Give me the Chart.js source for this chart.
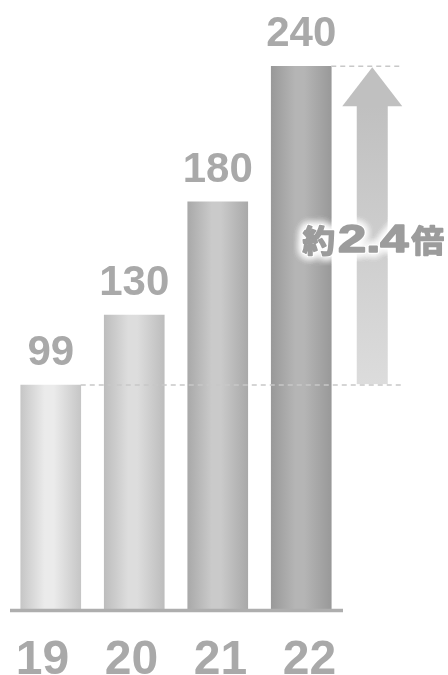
<!DOCTYPE html>
<html>
<head>
<meta charset="utf-8">
<script src="https://cdn.jsdelivr.net/npm/chart.js@4/dist/chart.umd.min.js"></script>
<style>
    html, body { margin: 0; padding: 0; background: #fff; }
    #wrap { width: 448px; height: 675px; }
</style>
</head>
<body>
<div id="wrap"><canvas id="chart" width="448" height="675"></canvas></div>
<script>
    // ── Data ─────────────────────────────────────────────────────────
    var years  = ['19', '20', '21', '22'];
    var values = [99, 130, 180, 240];
    var yMax   = 260;
    var ratio  = ['約', '2.4', '倍'];

    // bar shading: edge / highlight per bar
    var edgeColors  = ['#c6c6c6', '#bdbdbd', '#a9a9a9', '#999999'];
    var lightColors = ['#ebebeb', '#dddddd', '#cacaca', '#b5b5b5'];

    var TEXT = '#a9a9a9';
    var LATIN = '"Liberation Sans", Arial, sans-serif';
    var CJK = '"Noto Sans CJK JP", sans-serif';

    function barFill(ctx) {
        var chart = ctx.chart;
        var i = ctx.dataIndex;
        if (!chart.chartArea || !chart.scales.x) return edgeColors[i];
        var cx = chart.scales.x.getPixelForValue(i);
        var g = chart.ctx.createLinearGradient(cx - 30, 0, cx + 30, 0);
        g.addColorStop(0, edgeColors[i]);
        g.addColorStop(0.4, lightColors[i]);
        g.addColorStop(0.55, lightColors[i]);
        g.addColorStop(1, edgeColors[i]);
        return g;
    }

    // ── Overlay: axis, labels, arrow, ratio text ─────────────────────
    var overlay = {
        id: 'overlay',
        afterDatasetsDraw: function (chart) {
            var c = chart.ctx;
            var area = chart.chartArea;
            var y = chart.scales.y;
            var bars = chart.getDatasetMeta(0).data;
            var last = bars[bars.length - 1];
            var first = bars[0];
            var yTop = y.getPixelForValue(values[values.length - 1]);
            var yLow = y.getPixelForValue(values[0]);
            var ax = last.x + 71;
            var rightEnd = ax + 31;

            c.save();

            // arrow
            var head = 40;
            var shaft = c.createLinearGradient(0, yTop, 0, yLow);
            shaft.addColorStop(0, '#bcbcbc');
            shaft.addColorStop(1, '#dcdcdc');
            c.fillStyle = shaft;
            c.fillRect(ax - 15.5, yTop + head - 1, 31, yLow - yTop - head);
            c.fillStyle = '#c0c0c0';
            c.beginPath();
            c.moveTo(ax, yTop + 1);
            c.lineTo(ax + 30, yTop + head);
            c.lineTo(ax - 30, yTop + head);
            c.closePath();
            c.fill();

            // dashed guides
            c.strokeStyle = '#c8c8c8';
            c.lineWidth = 1.5;
            c.setLineDash([5, 4]);
            c.beginPath();
            c.moveTo(last.x + last.width / 2, yTop);
            c.lineTo(rightEnd, yTop);
            c.moveTo(first.x + first.width / 2, yLow);
            c.lineTo(rightEnd, yLow);
            c.stroke();
            c.setLineDash([]);

            // baseline
            c.strokeStyle = '#aeaeae';
            c.lineWidth = 3.5;
            c.beginPath();
            c.moveTo(area.left + 1, area.bottom + 1.5);
            c.lineTo(area.right, area.bottom + 1.5);
            c.stroke();

            // value labels
            c.fillStyle = TEXT;
            c.textAlign = 'center';
            c.textBaseline = 'alphabetic';
            c.font = 'bold 42px ' + LATIN;
            bars.forEach(function (b, i) {
                c.fillText(String(values[i]), b.x, b.y - 20);
            });

            // category labels, spread a little wider than the bars
            c.font = 'bold 48px ' + LATIN;
            bars.forEach(function (b, i) {
                c.fillText(years[i], b.x + (i - 1.5) * 5.5, 674);
            });

            // ratio text with white glow
            var base = 252;
            var parts = [
                { t: ratio[0], font: 'bold 31px ' + CJK, sx: 1.05 },
                { t: ratio[1], font: 'bold 39px ' + LATIN, sx: 1.3 },
                { t: ratio[2], font: 'bold 31px ' + CJK, sx: 1.05 }
            ];
            var widths = parts.map(function (p) {
                c.font = p.font;
                return c.measureText(p.t).width * p.sx;
            });
            var total = widths.reduce(function (a, b) { return a + b; }, 0) + 6;
            var x0 = ax - total / 2 + 1;
            c.textAlign = 'left';
            c.lineJoin = 'round';
            for (var pass = 0; pass < 4; pass++) {
                var x = x0;
                parts.forEach(function (p, k) {
                    c.save();
                    c.font = p.font;
                    c.translate(x, base);
                    c.scale(p.sx, 1);
                    if (pass < 3) {
                        c.shadowColor = '#ffffff';
                        c.shadowBlur = 10;
                        c.fillStyle = '#ffffff';
                        c.strokeStyle = '#ffffff';
                        c.lineWidth = 3;
                        c.strokeText(p.t, 0, 0);
                    } else {
                        c.fillStyle = '#9c9c9c';
                        c.strokeStyle = '#9c9c9c';
                        c.lineWidth = 1.6;
                        c.strokeText(p.t, 0, 0);
                    }
                    c.fillText(p.t, 0, 0);
                    c.restore();
                    x += widths[k] + 3;
                });
            }

            c.restore();
        }
    };

    new Chart(document.getElementById('chart'), {
        type: 'bar',
        data: {
            labels: years,
            datasets: [{
                data: values,
                backgroundColor: barFill,
                borderWidth: 0,
                barThickness: 60
            }]
        },
        options: {
            responsive: false,
            animation: false,
            layout: { padding: { top: 21, bottom: 66, left: 9, right: 105 } },
            plugins: {
                legend: { display: false },
                tooltip: { enabled: false }
            },
            scales: {
                x: { display: false },
                y: { display: false, min: 0, max: yMax }
            }
        },
        plugins: [overlay]
    });
</script>
</body>
</html>
